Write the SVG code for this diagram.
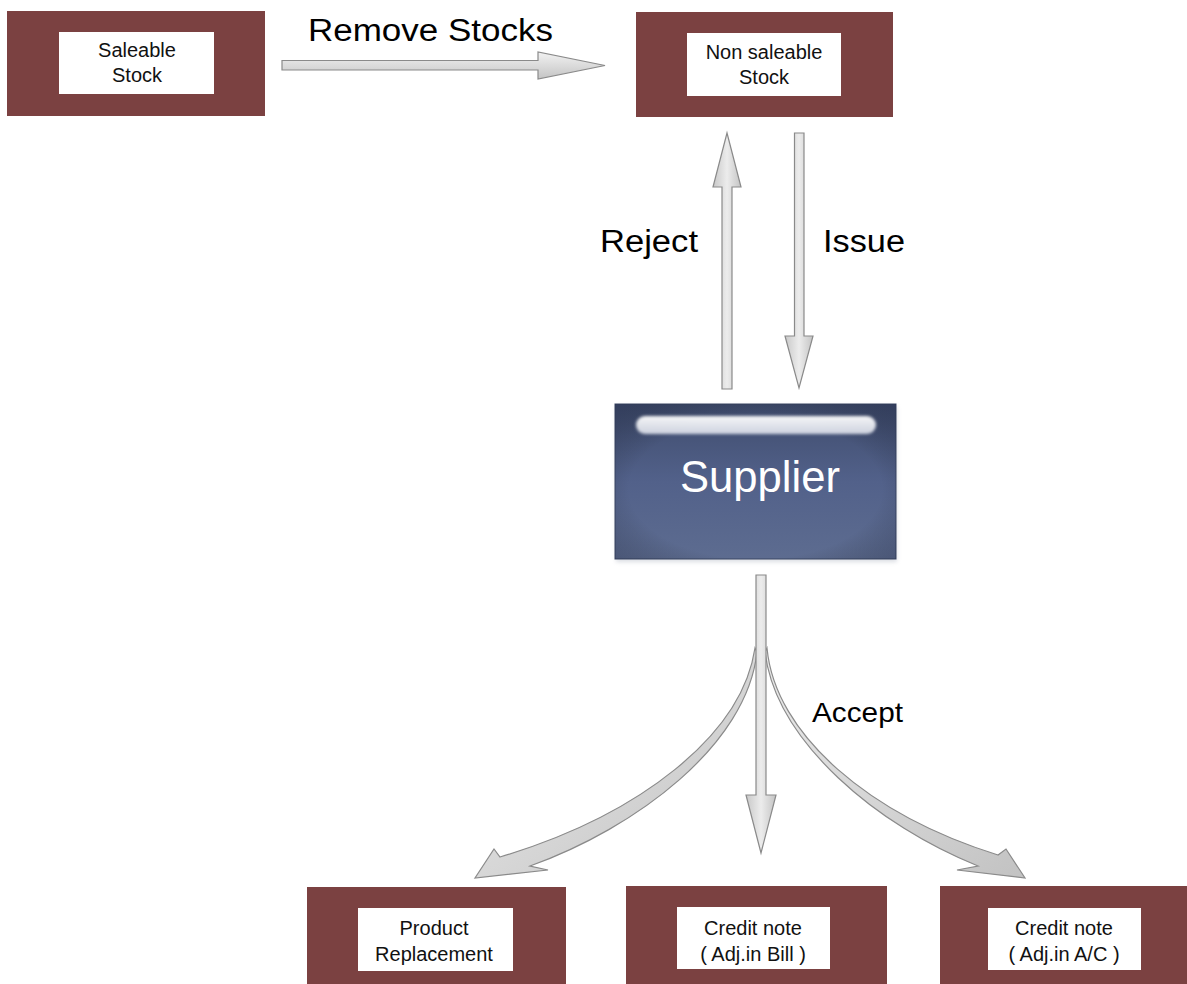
<svg xmlns="http://www.w3.org/2000/svg" width="1187" height="984" viewBox="0 0 1187 984">
<style>
.outer{fill:#7b4141;}
.inner{fill:#ffffff;}
.bt{font-family:"Liberation Sans",Arial,sans-serif;font-size:20px;fill:#111;text-anchor:middle;}
.lbl{font-family:"Liberation Sans",Arial,sans-serif;fill:#000;}
.arr{stroke:#8a8a8a;stroke-width:1.2;stroke-linejoin:miter;}
</style>
<defs>
<linearGradient id="gv" x1="0" y1="0" x2="0" y2="1">
<stop offset="0" stop-color="#f2f2f2"/><stop offset="1" stop-color="#c4c4c4"/>
</linearGradient>
<linearGradient id="gh" x1="0" y1="0" x2="1" y2="0">
<stop offset="0" stop-color="#c8c8c8"/><stop offset="0.5" stop-color="#ececec"/><stop offset="1" stop-color="#c4c4c4"/>
</linearGradient>
<linearGradient id="gc" x1="0" y1="0" x2="1" y2="1">
<stop offset="0" stop-color="#ececec"/><stop offset="1" stop-color="#c2c2c2"/>
</linearGradient>
<linearGradient id="sup" x1="0" y1="0" x2="0" y2="1">
<stop offset="0" stop-color="#3f4c6d"/><stop offset="0.5" stop-color="#52618a"/><stop offset="1" stop-color="#5d6c90"/>
</linearGradient>
<radialGradient id="supv" cx="0.5" cy="0.55" r="0.75">
<stop offset="0.6" stop-color="#000" stop-opacity="0"/><stop offset="1" stop-color="#1c2440" stop-opacity="0.35"/>
</radialGradient>
<linearGradient id="hl" x1="0" y1="0" x2="0" y2="1">
<stop offset="0" stop-color="#ffffff" stop-opacity="0.95"/><stop offset="1" stop-color="#e6e9f2" stop-opacity="0.85"/>
</linearGradient>
<filter id="blur" x="-10%" y="-50%" width="120%" height="200%"><feGaussianBlur stdDeviation="1.8"/></filter>
<filter id="shadow" x="-5%" y="-5%" width="110%" height="115%"><feGaussianBlur stdDeviation="2"/></filter>
</defs>

<g id="node-saleable">
<rect class="outer" x="7" y="11" width="258" height="105"/>
<rect class="inner" x="59" y="32" width="155" height="62"/>
<text class="bt" x="137" y="57">Saleable</text>
<text class="bt" x="137" y="82">Stock</text>
</g>

<g id="node-nonsaleable">
<rect class="outer" x="636" y="12" width="257" height="105"/>
<rect class="inner" x="687" y="33" width="154" height="63"/>
<text class="bt" x="764" y="59">Non saleable</text>
<text class="bt" x="764" y="84">Stock</text>
</g>

<g id="node-supplier">
<rect x="616" y="406" width="281" height="156" fill="#9aa0b0" opacity="0.35" filter="url(#shadow)"/>
<rect x="615" y="404" width="281" height="155" fill="url(#sup)" stroke="#3a4665" stroke-width="1"/>
<rect x="615" y="404" width="281" height="155" fill="url(#supv)"/>
<rect x="636" y="416" width="240" height="18" rx="9" fill="url(#hl)" filter="url(#blur)"/>
<text class="lbl" x="680" y="492" font-size="44" style="fill:#ffffff" textLength="160" lengthAdjust="spacingAndGlyphs">Supplier</text>
</g>

<g id="node-replacement">
<rect class="outer" x="307" y="887" width="259" height="100"/>
<rect class="inner" x="358" y="908" width="155" height="63"/>
<text class="bt" x="434" y="935">Product</text>
<text class="bt" x="434" y="961">Replacement</text>
</g>

<g id="node-credit-bill">
<rect class="outer" x="626" y="886" width="261" height="101"/>
<rect class="inner" x="677" y="907" width="153" height="62"/>
<text class="bt" x="753" y="935">Credit note</text>
<text class="bt" x="753" y="961">( Adj.in Bill )</text>
</g>

<g id="node-credit-ac">
<rect class="outer" x="940" y="886" width="250" height="101"/>
<rect class="inner" x="988" y="908" width="153" height="62"/>
<text class="bt" x="1064" y="935">Credit note</text>
<text class="bt" x="1064" y="961">( Adj.in A/C )</text>
</g>

<g id="connectors">
<polygon class="arr" fill="url(#gv)" points="282,60.5 538,60.5 538,52 605,65.5 538,79 538,70 282,70"/>
<polygon class="arr" fill="url(#gh)" points="722,389 722,187 713,187 727,133 741,187 732,187 732,389"/>
<polygon class="arr" fill="url(#gh)" points="794.5,133 804,133 804,336 813,336 799,388 785,336 794.5,336"/>
<path class="arr" fill="url(#gc)" d="M755,648 C742,735 640,815 500,857 L494,849 L475,878 L548,870 L530,866 C636,828 747,745 757,652 Z"/>
<path class="arr" fill="url(#gc)" d="M767,648 C775,735 870,815 998,855 L1006,849 L1025,878 L957,870 L978,866 C878,826 776,742 765,652 Z"/>
<polygon class="arr" fill="url(#gh)" points="756,575 766,575 766,795 776,795 761,853 746,795 756,795"/>
<text class="lbl" x="308" y="41" font-size="31" textLength="245" lengthAdjust="spacingAndGlyphs">Remove Stocks</text>
<text class="lbl" x="600" y="252" font-size="31" textLength="98" lengthAdjust="spacingAndGlyphs">Reject</text>
<text class="lbl" x="823" y="252" font-size="31" textLength="82" lengthAdjust="spacingAndGlyphs">Issue</text>
<text class="lbl" x="812" y="722" font-size="28" textLength="91" lengthAdjust="spacingAndGlyphs">Accept</text>
</g>
</svg>
